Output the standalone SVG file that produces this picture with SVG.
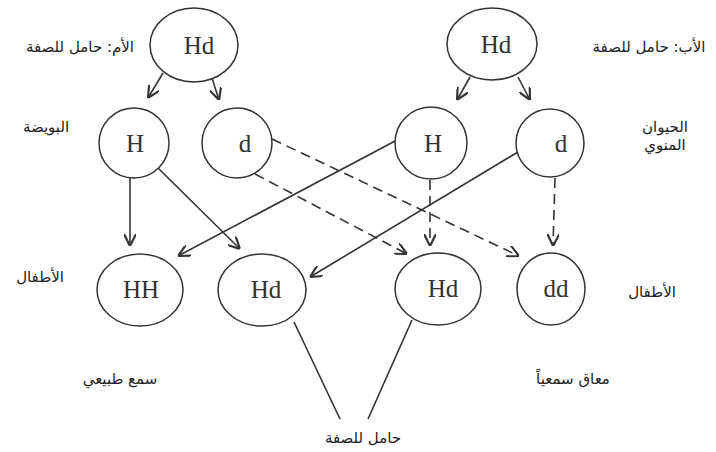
<svg xmlns="http://www.w3.org/2000/svg" width="716" height="452" viewBox="0 0 716 452">
<defs>
<marker id="arr" markerWidth="12" markerHeight="12" refX="10" refY="5" orient="auto" markerUnits="userSpaceOnUse" viewBox="0 0 10 10">
<path d="M0,0 L10,5 L0,10" fill="none" stroke="#333" stroke-width="1.8"/>
</marker>
<style>
.node{fill:#fff;stroke:#333;stroke-width:1.5}
.lbl{font-family:"Liberation Serif","Times New Roman",serif;font-size:25px;fill:#333;text-anchor:middle}
.ar{font-family:"DejaVu Sans","Noto Sans",sans-serif;font-size:15px;fill:#222;text-anchor:middle;direction:rtl}
.ln{stroke:#333;stroke-width:1.6;fill:none}
.arrow{stroke:#333;stroke-width:1.6;fill:none;marker-end:url(#arr)}
.dash{stroke-dasharray:10 6}
</style>
</defs>
<rect width="716" height="452" fill="#fff"/>
<g id="connectors">
<line class="arrow" x1="163" y1="73" x2="148" y2="98"/>
<line class="arrow" x1="212" y1="78" x2="219" y2="100"/>
<line class="arrow" x1="470" y1="77" x2="457" y2="100"/>
<line class="arrow" x1="518" y1="77" x2="530" y2="100" stroke-width="2.2"/>
<line class="arrow" x1="130" y1="178" x2="130" y2="246"/>
<line class="arrow" x1="158" y1="168" x2="240" y2="249"/>
<line class="arrow" x1="397" y1="140" x2="178" y2="256"/>
<line class="arrow" x1="518" y1="152" x2="310" y2="277"/>
<line class="arrow dash" x1="255" y1="174" x2="407" y2="254"/>
<line class="arrow dash" x1="272" y1="139" x2="519" y2="256"/>
<line class="arrow dash" x1="430" y1="180" x2="430" y2="246"/>
<line class="arrow dash" x1="555" y1="178" x2="553" y2="246"/>
<line class="ln" x1="294" y1="322" x2="340" y2="419"/>
<line class="ln" x1="412" y1="320" x2="368" y2="419"/>
</g>
<g id="mother"><ellipse class="node" cx="194" cy="45" rx="44" ry="37"/><text class="lbl" x="199" y="54">Hd</text></g>
<g id="father"><ellipse class="node" cx="492" cy="44" rx="45" ry="36"/><text class="lbl" x="496" y="53">Hd</text></g>
<g id="egg-H"><circle class="node" cx="134" cy="143" r="35"/><text class="lbl" x="135" y="152">H</text></g>
<g id="egg-d"><circle class="node" cx="237" cy="143" r="35"/><text class="lbl" x="245" y="152">d</text></g>
<g id="sperm-H"><circle class="node" cx="431" cy="143" r="36"/><text class="lbl" x="433" y="152">H</text></g>
<g id="sperm-d"><circle class="node" cx="550" cy="143" r="34"/><text class="lbl" x="561" y="152">d</text></g>
<g id="child-HH"><ellipse class="node" cx="140" cy="290" rx="43" ry="36"/><text class="lbl" x="141" y="298">HH</text></g>
<g id="child-Hd1"><ellipse class="node" cx="262" cy="290" rx="44" ry="36"/><text class="lbl" x="266" y="298">Hd</text></g>
<g id="child-Hd2"><ellipse class="node" cx="438" cy="289" rx="43" ry="36"/><text class="lbl" x="443" y="297">Hd</text></g>
<g id="child-dd"><ellipse class="node" cx="551" cy="289" rx="34" ry="36"/><text class="lbl" x="556" y="297">dd</text></g>
<g id="labels">
<text class="ar" x="80" y="52">الأم: حامل للصفة</text>
<text class="ar" x="46" y="132" font-size="13">البويضة</text>
<text class="ar" x="649" y="52">الأب: حامل للصفة</text>
<text class="ar" x="665" y="132">الحيوان</text>
<text class="ar" x="665" y="150">المنوي</text>
<text class="ar" x="40" y="282">الأطفال</text>
<text class="ar" x="652" y="297">الأطفال</text>
<text class="ar" x="120" y="384">سمع طبيعي</text>
<text class="ar" x="573" y="384">معاق سمعياً</text>
<text class="ar" x="363" y="443">حامل للصفة</text>
</g>
</svg>
